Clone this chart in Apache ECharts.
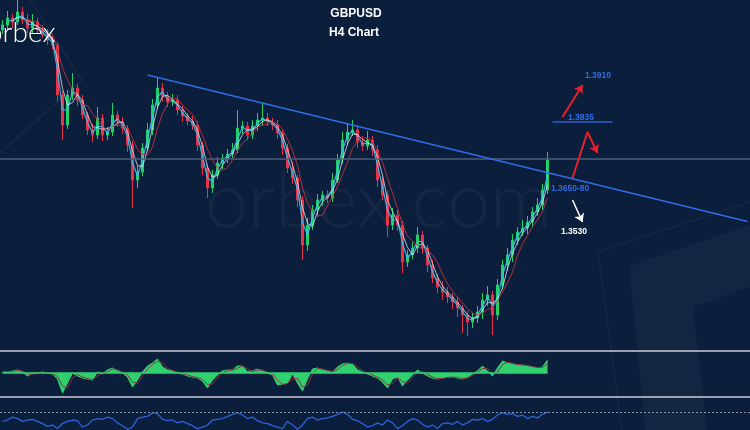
<!DOCTYPE html>
<html>
<head>
<meta charset="utf-8">
<title>GBPUSD H4 Chart</title>
<script src="https://cdn.jsdelivr.net/npm/echarts@6/dist/echarts.min.js"></script>
<style>
  html, body { margin: 0; padding: 0; background: #0b1e3b; }
  #chart { width: 750px; height: 430px; }
</style>
</head>
<body>
<div id="chart"></div>
<script>
// GBPUSD H4 - closes
var firstOpen = 1.3940
var closes = [
  1.3950, 1.3964, 1.3956, 1.3976, 1.3960, 1.3944, 1.3956, 1.3940, 1.3930, 1.3920,
  1.3910, 1.3810, 1.3750, 1.3810, 1.3824, 1.3800, 1.3770, 1.3740, 1.3730, 1.3764,
  1.3730, 1.3736, 1.3770, 1.3756, 1.3744, 1.3710, 1.3640, 1.3656, 1.3704, 1.3740,
  1.3790, 1.3824, 1.3808, 1.3796, 1.3800, 1.3780, 1.3768, 1.3758, 1.3750, 1.3710,
  1.3664, 1.3624, 1.3650, 1.3674, 1.3684, 1.3692, 1.3700, 1.3744, 1.3748, 1.3730,
  1.3748, 1.3760, 1.3764, 1.3756, 1.3750, 1.3734, 1.3704, 1.3664, 1.3644, 1.3600,
  1.3510, 1.3550, 1.3580, 1.3600, 1.3610, 1.3604, 1.3640, 1.3680, 1.3720, 1.3736,
  1.3740, 1.3716, 1.3708, 1.3720, 1.3700, 1.3640, 1.3610, 1.3550, 1.3570, 1.3550,
  1.3476, 1.3490, 1.3504, 1.3530, 1.3504, 1.3470, 1.3444, 1.3426, 1.3416, 1.3406,
  1.3396, 1.3384, 1.3370, 1.3356, 1.3364, 1.3376, 1.3400, 1.3410, 1.3370, 1.3430,
  1.3470, 1.3490, 1.3520, 1.3536, 1.3544, 1.3556, 1.3576, 1.3590, 1.3620, 1.3680
]
// wick lengths in pips above / below the body
var upWick = [
  10, 14, 8, 24, 10, 12, 16, 8, 10, 12,
  8, 6, 8, 10, 30, 8, 10, 6, 12, 22,
  8, 10, 24, 8, 10, 6, 8, 12, 10, 14,
  12, 22, 10, 8, 12, 10, 8, 6, 10, 8,
  6, 8, 10, 12, 8, 10, 14, 36, 10, 8,
  12, 14, 32, 10, 8, 10, 6, 8, 12, 6,
  8, 14, 10, 12, 8, 10, 14, 12, 16, 18,
  20, 10, 12, 18, 8, 10, 6, 8, 14, 10,
  8, 10, 12, 16, 8, 6, 10, 8, 12, 10,
  8, 10, 6, 8, 10, 12, 14, 18, 8, 12,
  10, 14, 12, 10, 16, 12, 10, 14, 12, 16
]
var downWick = [
  8, 10, 12, 6, 8, 10, 12, 8, 6, 10,
  8, 12, 30, 8, 10, 12, 8, 10, 14, 8,
  12, 10, 8, 10, 12, 14, 56, 16, 8, 6,
  10, 8, 12, 10, 8, 10, 12, 8, 10, 12,
  14, 20, 10, 8, 12, 10, 8, 6, 12, 10,
  8, 10, 12, 8, 10, 12, 14, 10, 12, 14,
  30, 12, 10, 14, 12, 10, 8, 6, 8, 10,
  8, 12, 10, 8, 12, 14, 10, 24, 10, 12,
  22, 10, 8, 10, 12, 14, 10, 12, 16, 12,
  14, 18, 36, 28, 12, 10, 14, 12, 40, 10,
  8, 12, 14, 10, 8, 12, 10, 8, 10, 8
]
// MACD panel (green area)
var macd = [
  1, 1, 2, 3, 1, -3, 0, 0, 1, 0,
  -1, -6, -20, -10, 0, -3, -5, -6, -7, 1,
  -1, 3, 5, 2, 0, -4, -14, -7, 1, 7,
  10, 14, 6, 3, 2, 0, -1, -3, -4, -5,
  -8, -15, -7, -2, 2, 3, 3, 7, 7, 1,
  2, 4, 2, 0, -2, -12, -11, -10, -1, -10,
  -18, -6, 4, 5, 3, 2, 1, 6, 9, 10,
  9, 3, 1, -1, -3, -5, -9, -15, -6, -4,
  -13, -7, -2, 3, 0, -3, -5, -6, -5, -4,
  -4, -5, -6, -4, -1, 2, 7, 2, -3, 5,
  12, 10, 9, 8, 8, 7, 6, 5, 6, 13
]
// oscillator panel (blue line)
var rsi = [
  57, 59, 63, 61, 57, 59, 60, 57, 54, 50,
  52, 47, 54, 57, 59, 58, 49, 52, 59, 61,
  60, 63, 61, 55, 51, 46, 49, 61, 63, 64,
  69, 68, 60, 58, 59, 55, 57, 54, 51, 47,
  49, 52, 59, 60, 61, 64, 67, 69, 66, 61,
  63, 58, 55, 54, 51, 49, 47, 57, 52, 46,
  52, 61, 63, 59, 61, 62, 64, 67, 70, 67,
  60, 58, 54, 49, 51, 55, 52, 59, 55, 47,
  51, 57, 61, 59, 53, 49, 52, 47, 54, 55,
  53, 57, 52, 55, 60, 59, 61, 57, 60, 66,
  69, 67, 68, 64, 66, 61, 64, 62, 67, 70
]
var slotCount = 150
var categories = []
for (var s = 0; s < slotCount; s++) categories.push(String(s))

var pip = 0.0001
var candles = []
var prev = firstOpen
for (var i = 0; i < closes.length; i++) {
  var o = prev
  var c = closes[i]
  var hi = Math.max(o, c) + upWick[i] * pip
  var lo = Math.min(o, c) - downWick[i] * pip
  candles.push([o, c, +lo.toFixed(4), +hi.toFixed(4)])
  prev = c
}

function calcMA (n, arr) {
  var out = []
  for (var i = 0; i < arr.length; i++) {
    if (i < n - 1) { out.push('-'); continue }
    var sum = 0
    for (var j = 0; j < n; j++) sum += arr[i - j]
    out.push(+(sum / n).toFixed(5))
  }
  return out
}

var green = '#22d06a'
var red = '#e8344a'
var blueLine = '#2f6de8'
var redArrow = '#e8202c'

var chart = echarts.init(document.getElementById('chart'))
var option = {
  backgroundColor: '#0b1e3b',
  animation: false,
  graphic: [
    // background shapes
    { type: 'polyline', z: -10, silent: true, shape: { points: [[30, 0], [82, 80], [0, 153]] },
      style: { stroke: 'rgba(255,255,255,0.05)', lineWidth: 1.5, fill: null } },
    { type: 'polyline', z: -10, silent: true, shape: { points: [[750, 202], [598, 252], [622, 430]] },
      style: { stroke: 'rgba(255,255,255,0.045)', lineWidth: 1.5, fill: null } },
    { type: 'polygon', z: -10, silent: true,
      shape: { points: [[629, 266], [750, 225], [750, 287], [693, 307], [707, 430], [645, 430]] },
      style: { fill: 'rgba(255,255,255,0.03)' } },
    // watermark
    { type: 'text', z: -5, silent: true,
      style: { text: 'orbex.com', x: 205, y: 241, textVerticalAlign: 'bottom', fill: 'rgba(255,255,255,0.045)',
        font: '300 77px Lato' } },
    { type: 'text', z: 50, silent: true,
      style: { text: 'orbex', x: -13, y: 47, textVerticalAlign: 'bottom', fill: '#ffffff',
        font: '300 28px Lato' } },
    // titles
    { type: 'text', z: 50, style: { text: 'GBPUSD', x: 356, y: 14, textAlign: 'center', textVerticalAlign: 'middle',
        fill: '#ffffff', font: 'bold 12px "Liberation Sans"' } },
    { type: 'text', z: 50, style: { text: 'H4 Chart', x: 354, y: 33, textAlign: 'center', textVerticalAlign: 'middle',
        fill: '#ffffff', font: 'bold 12px "Liberation Sans"' } },
    // level labels
    { type: 'text', z: 50, style: { text: '1.3910', x: 585, y: 76, textVerticalAlign: 'middle', fill: blueLine, font: 'bold 8.5px "Liberation Sans"' } },
    { type: 'text', z: 50, style: { text: '1.3835', x: 568, y: 118, textVerticalAlign: 'middle', fill: blueLine, font: 'bold 8.5px "Liberation Sans"' } },
    { type: 'text', z: 50, style: { text: '1.3650-80', x: 551, y: 189, textVerticalAlign: 'middle', fill: blueLine, font: 'bold 8.5px "Liberation Sans"' } },
    { type: 'text', z: 50, style: { text: '1.3530', x: 561, y: 232, textVerticalAlign: 'middle', fill: '#ffffff', font: 'bold 8.5px "Liberation Sans"' } },
    // panel separators
    { type: 'line', z: 50, shape: { x1: 0, y1: 351, x2: 750, y2: 351 }, style: { stroke: '#9aa2b1', lineWidth: 2 } },
    { type: 'line', z: 50, shape: { x1: 0, y1: 397, x2: 750, y2: 397 }, style: { stroke: '#9aa2b1', lineWidth: 2 } }
  ],
  grid: [
    { left: 0, right: 0, top: 0, height: 350 },
    { left: 0, right: 0, top: 351, height: 46 },
    { left: 0, right: 0, top: 405, height: 25 }
  ],
  xAxis: [
    { type: 'category', gridIndex: 0, data: categories, show: false },
    { type: 'category', gridIndex: 1, data: categories, show: false },
    { type: 'category', gridIndex: 2, data: categories, show: false }
  ],
  yAxis: [
    { type: 'value', gridIndex: 0, min: 1.33, max: 1.40, show: false, splitLine: { show: false } },
    { type: 'value', gridIndex: 1, min: -24, max: 22, show: false, splitLine: { show: false } },
    { type: 'value', gridIndex: 2, min: 45, max: 80, show: false, splitLine: { show: false } }
  ],
  series: [
    {
      name: 'levels',
      type: 'line',
      xAxisIndex: 0,
      yAxisIndex: 0,
      data: [],
      markLine: {
        silent: true,
        symbol: 'none',
        label: { show: false },
        data: [
          [{ coord: [0, 1.3682], x: 0, lineStyle: { color: '#4d5d78', width: 1.5, type: 'solid' } }, { coord: [149, 1.3682], x: 750 }],
          [{ coord: [29, 1.3850], lineStyle: { color: blueLine, width: 1.5, type: 'solid' } }, { coord: [149, 1.3557] }],
          [{ coord: [110, 1.3757], lineStyle: { color: '#2f5fc8', width: 1.5, type: 'solid' } }, { coord: [122, 1.3757] }],
          [{ coord: [114, 1.3644], lineStyle: { color: redArrow, width: 2, type: 'solid' } }, { coord: [117, 1.3736] }]
        ]
      }
    },
    {
      name: 'GBPUSD',
      type: 'candlestick',
      xAxisIndex: 0,
      yAxisIndex: 0,
      barWidth: 3,
      data: candles,
      itemStyle: { color: green, color0: red, borderColor: green, borderColor0: red, borderWidth: 1 }
    },
    {
      name: 'arrows',
      type: 'line',
      xAxisIndex: 0,
      yAxisIndex: 0,
      data: [],
      markLine: {
        silent: true,
        symbol: ['none', 'arrow'],
        symbolSize: 8,
        label: { show: false },
        data: [
          [{ coord: [112, 1.3766], lineStyle: { color: redArrow, width: 2, type: 'solid' } }, { coord: [116, 1.3830] }],
          [{ coord: [117, 1.3736], lineStyle: { color: redArrow, width: 2, type: 'solid' } }, { coord: [119, 1.3694] }],
          [{ coord: [114, 1.3600], lineStyle: { color: '#ffffff', width: 1.5, type: 'solid' } }, { coord: [116, 1.3556] }]
        ]
      }
    },
    { name: 'MA2', type: 'line', xAxisIndex: 0, yAxisIndex: 0, data: calcMA(2, closes), symbol: 'none',
      lineStyle: { color: '#3cc3ee', width: 1.2, opacity: 0.9 } },
    { name: 'MA3', type: 'line', xAxisIndex: 0, yAxisIndex: 0, data: calcMA(3, closes), symbol: 'none',
      lineStyle: { color: '#e4ecf4', width: 1, opacity: 0.75 } },
    { name: 'MA5', type: 'line', xAxisIndex: 0, yAxisIndex: 0, data: calcMA(5, closes), symbol: 'none',
      lineStyle: { color: '#c2343f', width: 1, opacity: 0.9 } },
    {
      name: 'MACD',
      type: 'line',
      xAxisIndex: 1,
      yAxisIndex: 1,
      data: macd,
      symbol: 'none',
      lineStyle: { color: '#2fd16f', width: 1 },
      areaStyle: { color: '#2fd16f', opacity: 1 },
      markLine: {
        silent: true,
        symbol: 'none',
        label: { show: false },
        data: [[{ coord: [0, 0], lineStyle: { color: '#2fd16f', width: 1.5, type: 'solid' } }, { coord: [109, 0] }]]
      }
    },
    { name: 'Signal', type: 'line', xAxisIndex: 1, yAxisIndex: 1, data: calcMA(2, macd), symbol: 'none',
      lineStyle: { color: '#8e2f44', width: 1 } },
    {
      name: 'RSI',
      type: 'line',
      xAxisIndex: 2,
      yAxisIndex: 2,
      data: rsi,
      symbol: 'none',
      lineStyle: { color: '#2d62dc', width: 1.3 },
      markLine: {
        silent: true,
        symbol: 'none',
        label: { show: false },
        data: [{ yAxis: 70, lineStyle: { color: '#8a93a6', width: 1, type: [2, 2] } }]
      }
    }
  ]
}
option && chart.setOption(option)
</script>
</body>
</html>
